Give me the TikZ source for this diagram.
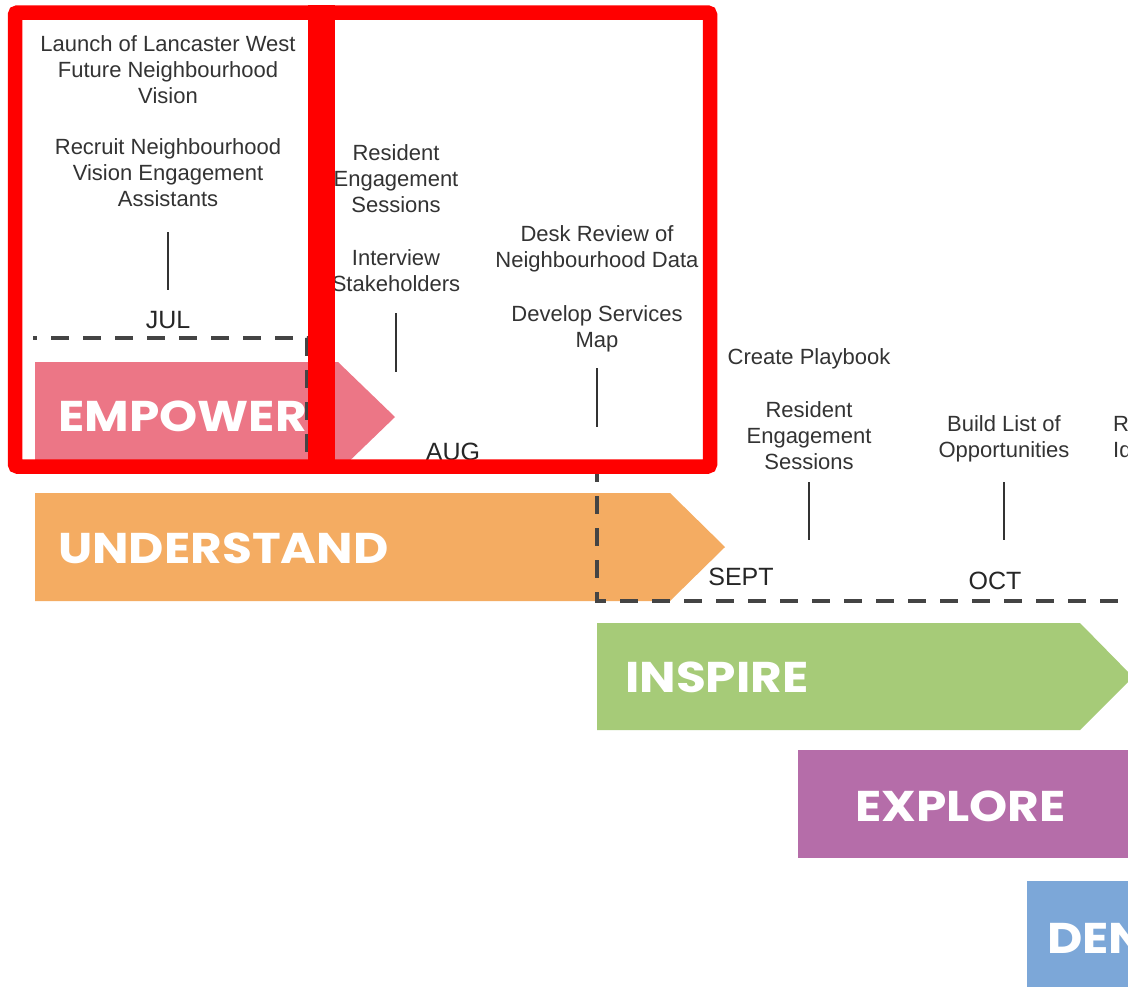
\documentclass[tikz,border=0pt]{standalone}
\usepackage{fontspec}
\setmainfont{Liberation Sans}
\newfontfamily\phasefont{Poppins}
\definecolor{pinkc}{HTML}{EC7686}
\definecolor{orangec}{HTML}{F4AC62}
\definecolor{greenc}{HTML}{A6CB78}
\definecolor{purplec}{HTML}{B56DA9}
\definecolor{bluec}{HTML}{7CA7D8}
\definecolor{txt}{HTML}{333333}
\definecolor{dashc}{HTML}{444444}
\definecolor{redc}{HTML}{FF0000}
\begin{document}
\begin{tikzpicture}[x=1pt,y=-1pt,
  item/.style={font=\fontsize{22}{26}\selectfont, text=txt, align=center, inner sep=0pt,
    execute at begin node=\strut, execute at end node=\strut},
  month/.style={font=\fontsize{25}{30}\selectfont, text=black!85, inner sep=0pt,
    execute at begin node=\strut},
  phase/.style={font=\phasefont\bfseries\fontsize{43}{52}\selectfont, text=white, inner sep=0pt, anchor=base west},
  tick/.style={draw=txt, line width=1.8pt},
  dashline/.style={draw=dashc, line width=3.5pt, dash pattern=on 18pt off 14pt, dash phase=14pt},
  redbox/.style={draw=redc, line width=14.5pt, rounded corners=2.5pt}]
\useasboundingbox (0,0) rectangle (1128,986);
\fill[white] (0,0) rectangle (1128,986);
\begin{scope}
\clip (0,0) rectangle (1128,986);
% phase arrows
\fill[pinkc] (35,362) -- (338,362) -- (395,417) -- (338,472) -- (35,472) -- cycle;
\fill[orangec] (35,493) -- (670,493) -- (725,547) -- (670,601) -- (35,601) -- cycle;
\fill[greenc] (597,623) -- (1080,623) -- (1133,677) -- (1080,730) -- (597,730) -- cycle;
\fill[purplec] (798,750) rectangle (1140,858);
\fill[bluec] (1027,881) rectangle (1140,1000);
% dashed timeline
\draw[dashline] (33,338) -- (307,338) -- (307,466) -- (597,466) -- (597,601) -- (1140,601);
% phase labels
\node[phase] (empower) at (58,431) {\scalebox{1.13}[1]{EMPOWER}};
\node[phase] (understand) at (58,563) {\scalebox{1.13}[1]{UNDERSTAND}};
\node[phase] (inspire) at (625,692) {\scalebox{1.13}[1]{INSPIRE}};
\node[phase] (explore) at (855,821) {\scalebox{1.13}[1]{EXPLORE}};
\node[phase] (dem) at (1047,953) {\scalebox{1.13}[1]{DEN}};
% activity texts
\node[item] (launch) at (168,73.7) {Launch of Lancaster West\\Future Neighbourhood\\Vision};
\node[item] (recruit) at (168,176.7) {Recruit Neighbourhood\\Vision Engagement\\Assistants};
\node[item] (res1) at (396,182.7) {Resident\\Engagement\\Sessions};
\node[item] (interview) at (396,274.7) {Interview\\Stakeholders};
\node[item] (desk) at (597,250.7) {Desk Review of\\Neighbourhood Data};
\node[item] (develop) at (597,330.2) {Develop Services\\Map};
\node[item] (playbook) at (809,359.7) {Create Playbook};
\node[item] (res2) at (809,439.7) {Resident\\Engagement\\Sessions};
\node[item] (build) at (1004,440.7) {Build List of\\Opportunities};
\node[item, align=left, anchor=west] (cut) at (1113,440.7) {R\\Id};
% months
\node[month] (jul) at (168,322) {JUL};
\node[month] (aug) at (453,454) {AUG};
\node[month] (sept) at (741,579) {SEPT};
\node[month] (oct) at (995,583.5) {OCT};
% ticks
\coordinate (t1a) at (168,232); \coordinate (t1b) at (168,290);
\coordinate (t2a) at (396,313); \coordinate (t2b) at (396,372);
\coordinate (t3a) at (597,368); \coordinate (t3b) at (597,427);
\coordinate (t4a) at (809,482); \coordinate (t4b) at (809,540);
\coordinate (t5a) at (1004,482); \coordinate (t5b) at (1004,540);
\draw[tick] (t1a) -- (t1b);
\draw[tick] (t2a) -- (t2b);
\draw[tick] (t3a) -- (t3b);
\draw[tick] (t4a) -- (t4b);
\draw[tick] (t5a) -- (t5b);
% red highlight boxes
\draw[redbox] (15,12.5) rectangle (710,466.5);
\fill[redc] (308,5.25) rectangle (335,473.75);
\end{scope}
\end{tikzpicture}
\end{document}
